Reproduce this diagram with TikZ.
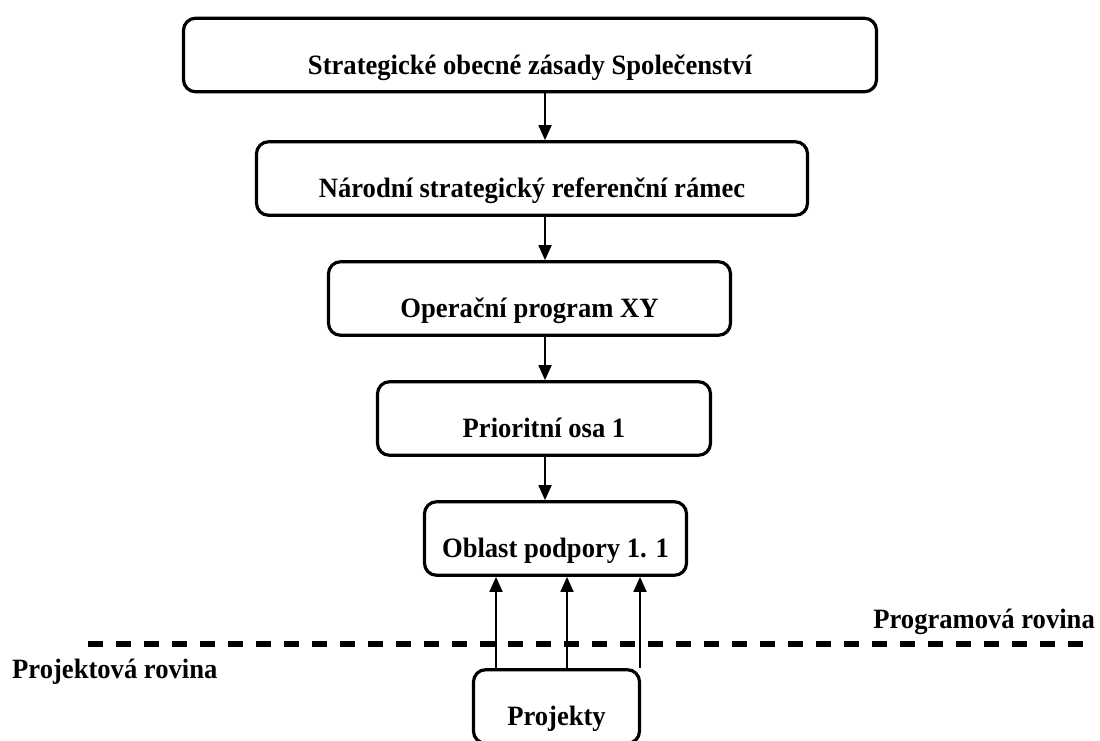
\documentclass[tikz,border=0pt]{standalone}
\usepackage{fontspec}
\setmainfont[FakeStretch=0.95]{Liberation Serif}
\usetikzlibrary{arrows.meta}
\begin{document}
\begin{tikzpicture}[x=1pt,y=-1pt,
		level/.style={draw,line width=3.2pt,rounded corners=12pt,inner xsep=0pt,inner ysep=0pt,
			text height=56pt,text depth=17.5pt,font=\fontsize{28}{32}\selectfont\bfseries},
		flow/.style={-{Triangle[width=13pt,length=15pt]},line width=1.8pt},
		divider/.style={line width=5.5pt,dash pattern=on 15pt off 13pt},
		tag/.style={inner sep=0pt,font=\fontsize{28}{32}\selectfont\bfseries}]
		\useasboundingbox (0,0) rectangle (1100,740);
		% Úrovně programování
		\node[level,minimum width=693pt] (zasady) at (530,55) {Strategické obecné zásady Společenství};
		\node[level,minimum width=551pt] (nsrr) at (532,178.5) {Národní strategický referenční rámec};
		\node[level,minimum width=402pt] (op) at (529.5,298.5) {Operační program XY};
		\node[level,minimum width=333pt] (osa) at (544,418.5) {Prioritní osa 1};
		\node[level,minimum width=262pt] (oblast) at (555.5,538.5) {Oblast podpory 1. 1};
		% Projekty
		\node[level,minimum width=166pt] (projekty) at (556.5,706.5) {Projekty};
		% Šipky dolů
		\coordinate (stem) at (545,0);
		\foreach \a/\b in {zasady/nsrr,nsrr/op,op/osa,osa/oblast}
			\draw[flow] (\a.south -| stem) -- (\b.north -| stem);
		% Šipky z projektů
		\foreach \x in {496,567,640}
			\draw[flow] (projekty.north -| \x,0) -- (oblast.south -| \x,0);
		% Hranice rovin
		\coordinate (divL) at (88,644);
		\coordinate (divR) at (1083,644);
		\draw[divider] (divL) -- (divR);
		\node[tag,anchor=base east] (programova) at (1095,628) {Programová rovina};
		\node[tag,anchor=base west] (projektova) at (12,678) {Projektová rovina};
	\end{tikzpicture}
\end{document}
